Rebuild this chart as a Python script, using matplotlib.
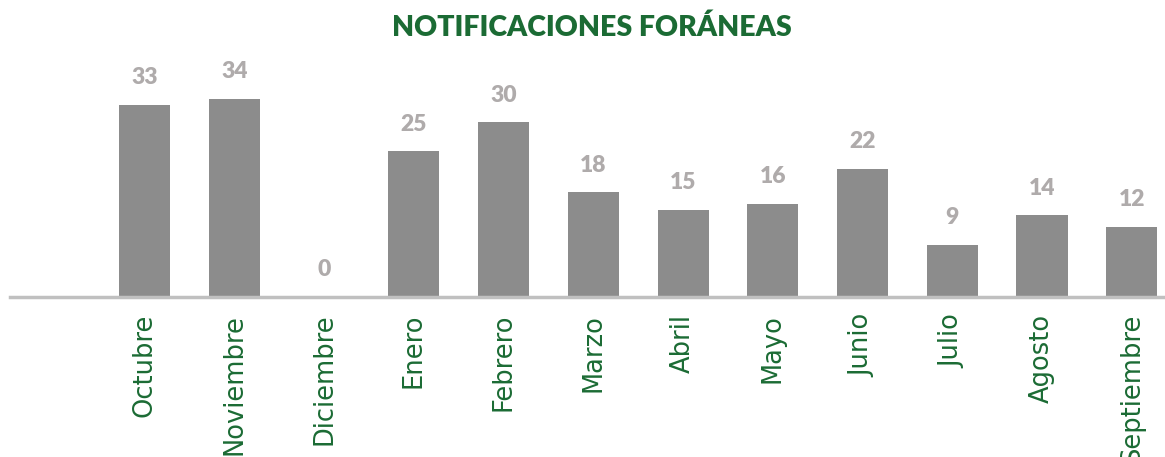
import matplotlib.pyplot as plt

meses = ['Octubre', 'Noviembre', 'Diciembre', 'Enero', 'Febrero', 'Marzo',
         'Abril', 'Mayo', 'Junio', 'Julio', 'Agosto', 'Septiembre']
notificaciones = [33, 34, 0, 25, 30, 18, 15, 16, 22, 9, 14, 12]

GREEN = '#1b6b34'
BAR = '#8c8c8c'
LABEL = '#afabab'

fig = plt.figure(figsize=(11.65, 4.57), dpi=100)
ax = fig.add_axes([10 / 1165, 160 / 457, 1 - 10 / 1165, 297 / 457])

x = range(len(meses))
bars = ax.bar(x, notificaciones, width=0.57, color=BAR)
for b, v in zip(bars, notificaciones):
    ax.annotate(str(v), (b.get_x() + b.get_width() / 2, v),
                xytext=(0, 12), textcoords='offset points',
                ha='center', va='bottom', fontsize=16.5, fontweight='heavy',
                color=LABEL, family='Lato')

ax.set_xlim(-1.5, 11.37)
ax.set_ylim(0, 51)
ax.set_xticks(list(x))
ax.set_xticklabels(meses, rotation=90, ha='center', va='top',
                   fontsize=18.5, color=GREEN, family='DejaVu Sans')
ax.tick_params(axis='x', length=0, pad=12)
ax.set_yticks([])
for s in ['top', 'left', 'right']:
    ax.spines[s].set_visible(False)
ax.spines['bottom'].set_color('#c0c0c0')
ax.spines['bottom'].set_linewidth(2.5)

fig.text(592 / 1165, 1 - 28 / 457, 'NOTIFICACIONES FORÁNEAS', ha='center',
         va='center', fontsize=20.5, fontweight='heavy', color=GREEN,
         family='Lato')

fig.savefig('out.png', dpi=100)
